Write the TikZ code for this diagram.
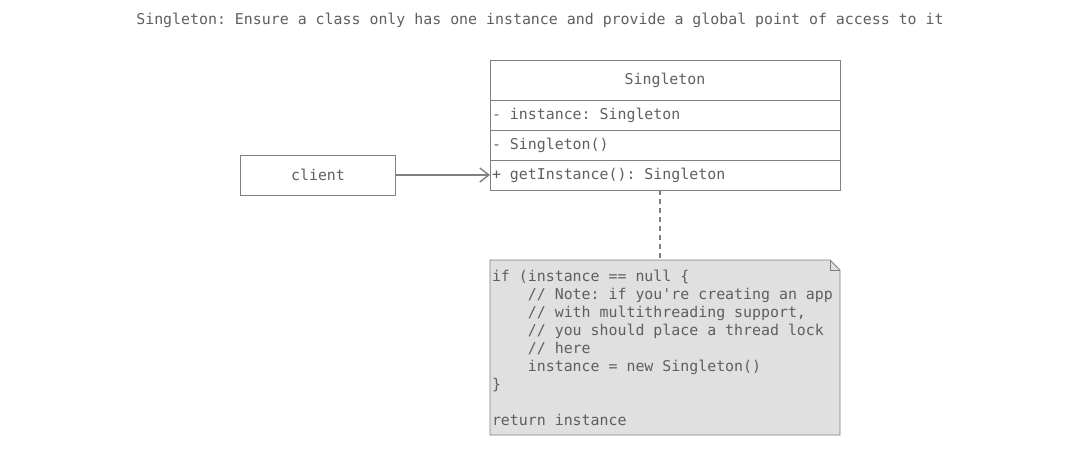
\documentclass[tikz,border=0pt]{standalone}
\usepackage{fontspec}
\setmonofont{DejaVu Sans Mono}
\usepackage{tikz}
\usetikzlibrary{positioning, arrows.meta}
\definecolor{linegray}{RGB}{128,128,128}
\definecolor{textgray}{RGB}{95,95,95}
\definecolor{notefill}{RGB}{224,224,224}
\newcommand{\ind}{\phantom{xxxx}}

\begin{document}
\begin{tikzpicture}[x=1pt, y=-1pt,
    every node/.style={font=\ttfamily\fontsize{14.9}{18}\selectfont, text=textgray},
    box/.style={draw=linegray, line width=0.8pt, minimum width=350pt, inner sep=0pt, outer sep=0pt},
    row/.style={box, minimum height=30pt, text width=346pt, align=left,
        execute at begin node={\spaceskip=\fontdimen2\font\xspaceskip=\fontdimen2\font}},
    call/.style={draw=linegray, line width=1.6pt, -{Straight Barb[length=9pt, width=14pt, line width=1.4pt]}},
    link/.style={draw=linegray, line width=1.6pt, dash pattern=on 5pt off 4pt}]
    \useasboundingbox (0,0) rectangle (1081,451);
    \node (title) at (540,20) {Singleton: Ensure a class only has one instance and provide a global point of access to it};
    \node[box, minimum height=40pt] (hdr) at (665,80) {Singleton};
    \node[row, below=0pt of hdr] (attr) {- instance: Singleton};
    \node[row, below=0pt of attr] (ctor) {- Singleton()};
    \node[row, below=0pt of ctor] (meth) {+ getInstance(): Singleton};
    \node[box, minimum width=155pt, minimum height=40pt] (client) at (318,175) {client};
    \node[row, draw=none, minimum height=175pt, below=70pt of meth] (note) {};
    \filldraw[fill=notefill, draw=linegray, line width=0.8pt] (note.north west) -- ([xshift=-10pt]note.north east)
        -- ([yshift=-10pt]note.north east) -- (note.south east) -- (note.south west) -- cycle;
    \draw[linegray, line width=0.8pt] ([xshift=-10pt]note.north east) -- ([xshift=-10pt, yshift=-10pt]note.north east)
        -- ([yshift=-10pt]note.north east);
    \node[row, draw=none, minimum height=175pt] (code) at (note) {if (instance == null \{\\
        \ind// Note: if you're creating an app\\
        \ind// with multithreading support,\\
        \ind// you should place a thread lock\\
        \ind// here\\
        \ind instance = new Singleton()\\
        \}\\[18pt]
        return instance};
    \coordinate (lnk) at (660,0);
    \draw[link] (lnk |- meth.south) -- (lnk |- note.north);
    \draw[call] (client.east) -- (client.east -| meth.west);
\end{tikzpicture}
\end{document}
